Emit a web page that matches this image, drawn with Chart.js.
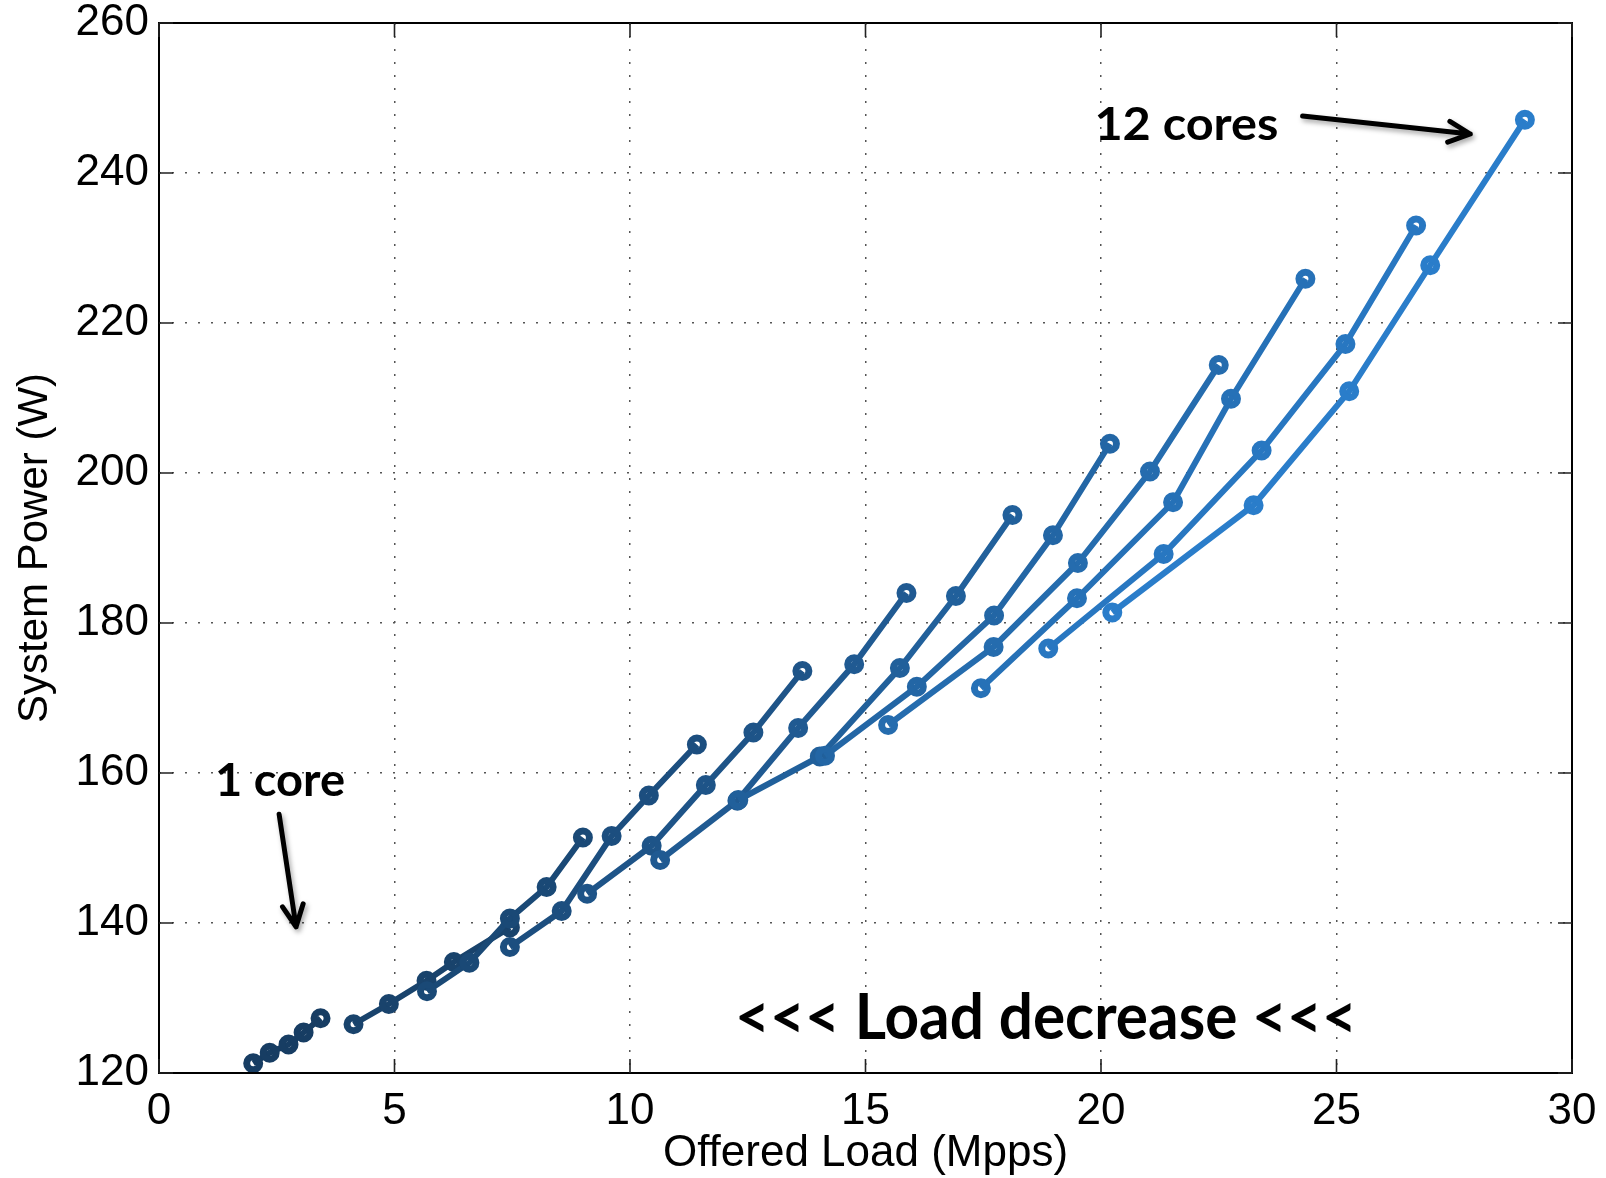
<!DOCTYPE html>
<html>
<head>
<meta charset="utf-8">
<script src="https://cdn.jsdelivr.net/npm/chart.js@4.4.1/dist/chart.umd.min.js"></script>
<style>
  html, body { margin: 0; padding: 0; background: #fff; }
  #wrap { width: 1606px; height: 1178px; }
</style>
</head>
<body>
<div id="wrap"><canvas id="chart_1" width="1606" height="1178"></canvas></div>
<script>
// offered load (Mpps) and system power (W), one pair per core count
const load_1 = [2.0, 2.35, 2.75, 3.07, 3.43]
const power_1 = [121.3, 122.7, 123.8, 125.4, 127.3]
const load_2 = [4.13, 4.88, 5.68, 6.26, 7.45]
const power_2 = [126.5, 129.2, 132.3, 134.8, 139.4]
const load_3 = [5.69, 6.59, 7.45, 8.23, 9.0]
const power_3 = [130.9, 134.7, 140.6, 144.8, 151.4]
const load_4 = [7.45, 8.55, 9.61, 10.40, 11.42]
const power_4 = [136.8, 141.6, 151.6, 157.0, 163.8]
const load_5 = [9.09, 10.46, 11.61, 12.62, 13.66]
const power_5 = [143.9, 150.3, 158.4, 165.4, 173.6]
const load_6 = [10.64, 12.28, 13.57, 14.76, 15.87]
const power_6 = [148.4, 156.3, 166.0, 174.5, 184.0]
const load_7 = [12.3, 14.03, 15.73, 16.92, 18.12]
const power_7 = [156.4, 162.2, 174.0, 183.6, 194.4]
const load_8 = [14.14, 16.09, 17.73, 18.98, 20.19]
const power_8 = [162.3, 171.5, 181.0, 191.7, 203.9]
const load_9 = [15.48, 17.72, 19.51, 21.04, 22.5]
const power_9 = [166.4, 176.8, 188.0, 200.2, 214.4]
const load_10 = [17.45, 19.49, 21.53, 22.76, 24.34]
const power_10 = [171.3, 183.3, 196.1, 209.9, 225.9]
const load_11 = [18.88, 21.33, 23.41, 25.19, 26.69]
const power_11 = [176.6, 189.2, 203.0, 217.2, 233.0]
const load_12 = [20.24, 23.24, 25.27, 26.99, 29.0]
const power_12 = [181.4, 195.7, 210.9, 227.7, 247.1]

const x_ticks = [0, 5, 10, 15, 20, 25, 30]
const y_ticks = [120, 140, 160, 180, 200, 220, 240, 260]

const all_loads = [load_1, load_2, load_3, load_4, load_5, load_6, load_7, load_8, load_9, load_10, load_11, load_12]
const all_powers = [power_1, power_2, power_3, power_4, power_5, power_6, power_7, power_8, power_9, power_10, power_11, power_12]

// dark navy for 1 core up to lighter blue for 12 cores
const line_colours = ["#173d63", "#19436c", "#1a4976", "#1c4e7f", "#1e5488", "#205a92",
  "#21609b", "#2366a5", "#256cae", "#2671b7", "#2877c1", "#2a7dca"]

let datasets = []
for (let i = 0; i < all_loads.length; i++) {
  let pts = all_loads[i].map(function (v, j) { return { x: v, y: all_powers[i][j] } })
  datasets.push({
    label: (i + 1) + (i == 0 ? ' core' : ' cores'),
    data: pts,
    showLine: true,
    borderColor: line_colours[i],
    borderWidth: 6,
    pointRadius: 6.5,
    pointBorderWidth: 7,
    pointBorderColor: line_colours[i],
    pointBackgroundColor: 'rgba(0,0,0,0)',
    order: 11 - i
  })
}

function drawArrow(ctx, x1, y1, x2, y2) {
  let ang = Math.atan2(y2 - y1, x2 - x1)
  let head = 24
  ctx.beginPath()
  ctx.moveTo(x1, y1)
  ctx.lineTo(x2, y2)
  ctx.moveTo(x2 - head * Math.cos(ang - 0.45), y2 - head * Math.sin(ang - 0.45))
  ctx.lineTo(x2, y2)
  ctx.lineTo(x2 - head * Math.cos(ang + 0.45), y2 - head * Math.sin(ang + 0.45))
  ctx.stroke()
}

// bold label squeezed sideways so it spans the given width
function fitText(ctx, txt, size, width, x, y) {
  ctx.font = 'bold ' + size + 'px Lato'
  let w = ctx.measureText(txt).width
  ctx.save()
  ctx.translate(x, y)
  ctx.scale(width / w, 1)
  ctx.fillText(txt, 0, 0)
  ctx.restore()
}

// frame, inner tick marks, labels and arrows
const frame_and_notes = {
  id: 'frame_and_notes',
  afterDatasetsDraw(chart) {
    const ctx = chart.ctx
    const a = chart.chartArea
    const xs = chart.scales.x
    const ys = chart.scales.y
    ctx.save()
    ctx.strokeStyle = '#000'
    ctx.lineWidth = 2
    ctx.strokeRect(a.left, a.top, a.right - a.left, a.bottom - a.top)
    ctx.lineWidth = 1.6
    ctx.strokeStyle = '#222'
    ctx.beginPath()
    x_ticks.forEach(function (t) {
      let px = xs.getPixelForValue(t)
      ctx.moveTo(px, a.bottom); ctx.lineTo(px, a.bottom - 14)
      ctx.moveTo(px, a.top); ctx.lineTo(px, a.top + 14)
    })
    y_ticks.forEach(function (t) {
      let py = ys.getPixelForValue(t)
      ctx.moveTo(a.left, py); ctx.lineTo(a.left + 14, py)
      ctx.moveTo(a.right, py); ctx.lineTo(a.right - 14, py)
    })
    ctx.stroke()

    ctx.fillStyle = '#000'
    ctx.textBaseline = 'middle'
    ctx.textAlign = 'left'
    fitText(ctx, '12 cores', 46, 184, xs.getPixelForValue(19.86), ys.getPixelForValue(246.4))
    fitText(ctx, '1 core', 46, 130, xs.getPixelForValue(1.19), ys.getPixelForValue(158.9))
    fitText(ctx, '<<< Load decrease <<<', 64, 622, xs.getPixelForValue(12.23), ys.getPixelForValue(127.3))

    ctx.strokeStyle = '#000'
    ctx.lineWidth = 5
    ctx.lineCap = 'round'
    ctx.lineJoin = 'round'
    ctx.shadowColor = 'rgba(0,0,0,0.35)'
    ctx.shadowBlur = 5
    ctx.shadowOffsetX = 2
    ctx.shadowOffsetY = 3
    drawArrow(ctx, xs.getPixelForValue(24.28), ys.getPixelForValue(247.6), xs.getPixelForValue(27.84), ys.getPixelForValue(245.2))
    drawArrow(ctx, xs.getPixelForValue(2.55), ys.getPixelForValue(154.5), xs.getPixelForValue(2.91), ys.getPixelForValue(139.5))
    ctx.restore()
  }
}

const tick_font = { family: 'Liberation Sans, Arial, sans-serif', size: 44 }

let ctx1 = document.getElementById('chart_1').getContext('2d')
let chart1 = new Chart(ctx1, {
  type: 'scatter',
  data: { datasets: datasets },
  options: {
    responsive: false,
    animation: false,
    layout: { padding: { top: 23, right: 34, left: 0, bottom: 0 } },
    plugins: {
      legend: { display: false },
      tooltip: { enabled: false }
    },
    scales: {
      x: {
        type: 'linear',
        min: 0,
        max: 30,
        afterBuildTicks: function (scale) { scale.ticks = x_ticks.map(function (v) { return { value: v } }) },
        afterFit: function (scale) {
          scale.height = 105
          scale.paddingLeft = 0
          scale.paddingRight = 0
        },
        ticks: { color: '#000', font: tick_font, padding: 12, maxRotation: 0 },
        grid: { color: '#555', lineWidth: 1.5, drawTicks: false },
        border: { display: false, dash: [2, 11] },
        title: {
          display: true,
          text: 'Offered Load (Mpps)',
          color: '#000',
          font: { family: 'Liberation Sans, Arial, sans-serif', size: 44 },
          padding: { top: 0, bottom: -2 }
        }
      },
      y: {
        type: 'linear',
        min: 120,
        max: 260,
        afterBuildTicks: function (scale) { scale.ticks = y_ticks.map(function (v) { return { value: v } }) },
        afterFit: function (scale) {
          scale.width = 159
          scale.paddingTop = 0
          scale.paddingBottom = 0
        },
        ticks: { color: '#000', font: tick_font, padding: 10 },
        grid: { color: '#555', lineWidth: 1.5, drawTicks: false },
        border: { display: false, dash: [2, 11] },
        title: {
          display: true,
          text: 'System Power (W)',
          color: '#000',
          font: { family: 'Liberation Sans, Arial, sans-serif', size: 42 },
          padding: { top: 10, bottom: 0 }
        }
      }
    }
  },
  plugins: [frame_and_notes]
})
</script>
</body>
</html>
